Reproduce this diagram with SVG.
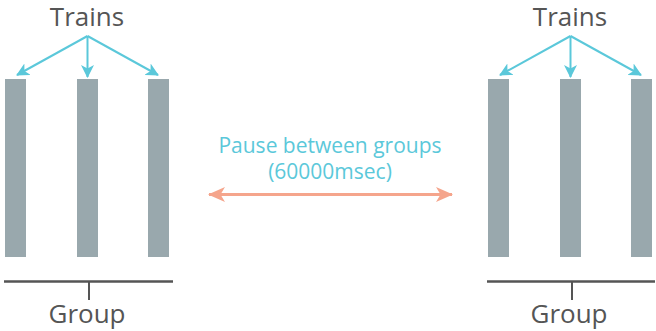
<svg xmlns="http://www.w3.org/2000/svg" width="656" height="331" viewBox="0 0 656 331">
<style>
.bar{fill:#99a8ad}
.lbl{font-family:"Open Sans","DejaVu Sans",sans-serif;font-size:26px;fill:#555555;text-anchor:middle}
.pause{font-family:"Open Sans","DejaVu Sans",sans-serif;font-size:21px;fill:#5bc8da;text-anchor:middle}
.cy{stroke:#5bc8da;stroke-width:2;fill:none}
.base{stroke:#555555;stroke-width:2.5;fill:none}
.tick{stroke:#555555;stroke-width:2;fill:none}
.or{stroke:#f5a58c;stroke-width:3;fill:none}
</style>
<defs>
<marker id="ac" viewBox="0 0 13 13" refX="12" refY="6.5" markerWidth="13" markerHeight="13" markerUnits="userSpaceOnUse" orient="auto">
<path d="M0,0 L13,6.5 L0,13 L3.5,6.5 Z" fill="#5bc8da"/>
</marker>
<marker id="ao" viewBox="0 0 17 15" refX="16" refY="7.5" markerWidth="17" markerHeight="15" markerUnits="userSpaceOnUse" orient="auto-start-reverse">
<path d="M0,0 L17,7.5 L0,15 L4.5,7.5 Z" fill="#f5a58c"/>
</marker>
</defs>
<g id="left-group">
<text class="lbl" x="87" y="26">Trains</text>
<rect class="bar" x="5" y="79" width="21" height="178"/>
<rect class="bar" x="77" y="79" width="21" height="178"/>
<rect class="bar" x="148" y="79" width="21" height="178"/>
<text class="lbl" x="87" y="323">Group</text>
</g>
<g id="right-group">
<text class="lbl" x="570" y="26">Trains</text>
<rect class="bar" x="488" y="79" width="21" height="178"/>
<rect class="bar" x="560" y="79" width="21" height="178"/>
<rect class="bar" x="631" y="79" width="21" height="178"/>
<text class="lbl" x="569" y="323">Group</text>
</g>
<g id="pause-label">
<text class="pause" x="330" y="153">Pause between groups</text>
<text class="pause" x="330" y="179">(60000msec)</text>
</g>
<g id="connectors">
<path class="cy" d="M87.5,36 L17,75" marker-end="url(#ac)"/>
<path class="cy" d="M87.5,36 L87.5,77" marker-end="url(#ac)"/>
<path class="cy" d="M87.5,36 L158,75" marker-end="url(#ac)"/>
<path class="cy" d="M570.5,36 L500,75" marker-end="url(#ac)"/>
<path class="cy" d="M570.5,36 L570.5,77" marker-end="url(#ac)"/>
<path class="cy" d="M570.5,36 L641,75" marker-end="url(#ac)"/>
<path class="base" d="M4,281.5 L173,281.5"/>
<path class="tick" d="M89,281.5 L89,300"/>
<path class="base" d="M487,281.5 L655,281.5"/>
<path class="tick" d="M572,281.5 L572,300"/>
<path class="or" d="M209,194.5 L452,194.5" marker-start="url(#ao)" marker-end="url(#ao)"/>
</g>
</svg>
